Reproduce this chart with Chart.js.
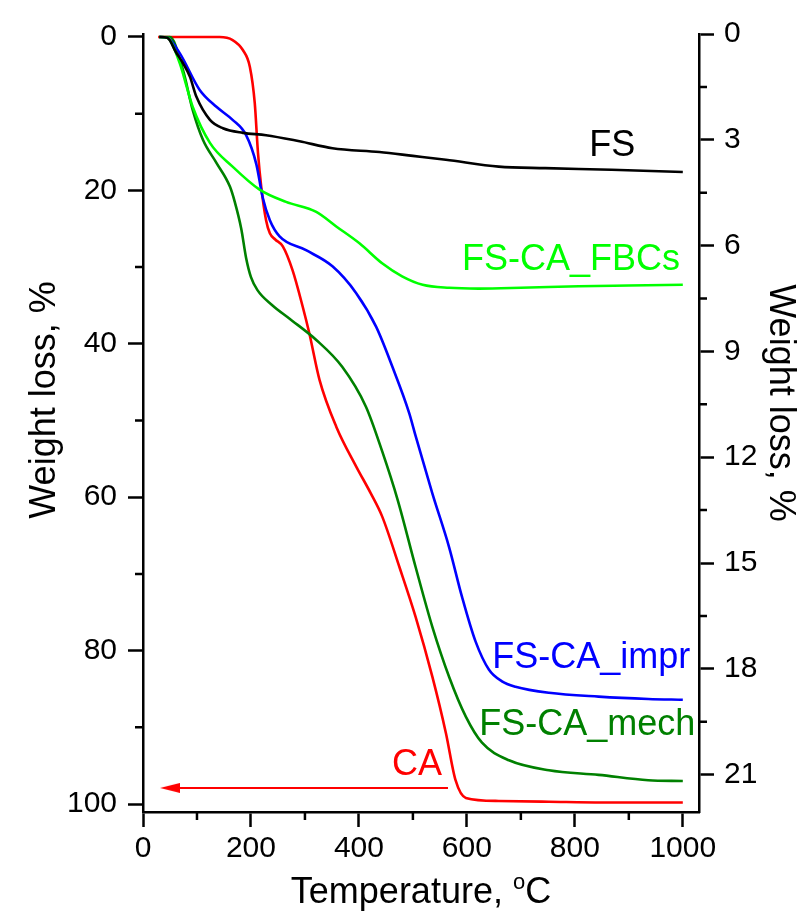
<!DOCTYPE html>
<html>
<head>
<meta charset="utf-8">
<title>TGA weight loss</title>
<script src="https://cdn.jsdelivr.net/npm/chart.js@4.4.1/dist/chart.umd.min.js"></script>
<style>
  html, body { margin: 0; padding: 0; background: #fff; overflow: hidden; }
  canvas { display: block; }
</style>
</head>
<body>
<canvas id="tgaChart" width="801" height="922"></canvas>
<script>
const FONT = '"Liberation Sans", Arial, sans-serif';

// Thermogravimetric curves: temperature (°C) and weight loss (%)
const fsTemp = [30, 45, 62, 74, 87, 99, 124, 148, 185, 228, 290, 351, 438, 500, 561, 659, 745, 868, 1000];
const fsLoss = [0, 0.1, 2.1, 3.4, 5.2, 7.8, 10.8, 11.9, 12.5, 12.8, 13.6, 14.5, 15.0, 15.5, 16.0, 16.9, 17.1, 17.3, 17.6];

const fbcTemp = [30, 45, 68, 81, 92, 124, 166, 216, 265, 321, 358, 401, 443, 480, 518, 567, 622, 700, 807, 900, 1000];
const fbcLoss = [0, 0.1, 3.4, 6.5, 9.1, 13.8, 16.9, 19.9, 21.5, 22.8, 24.7, 26.9, 29.5, 31.2, 32.3, 32.7, 32.8, 32.7, 32.5, 32.4, 32.3];

const imprTemp = [30, 45, 68, 105, 136, 166, 191, 210, 222, 235, 253, 302, 351, 395, 432, 462, 493, 505, 536, 567, 591, 616, 641, 665, 690, 752, 844, 936, 1000];
const imprLoss = [0, 0.1, 2.1, 6.9, 9.1, 10.8, 12.8, 16.6, 21.0, 23.9, 26.0, 27.8, 29.9, 33.4, 37.8, 43.0, 49.0, 52.0, 59.5, 66.5, 73.0, 78.8, 82.5, 84.0, 84.7, 85.5, 86.0, 86.3, 86.4];

const mechTemp = [30, 50, 74, 92, 111, 136, 161, 170, 182, 191, 200, 212, 240, 271, 321, 369, 413, 443, 472, 505, 536, 567, 598, 628, 678, 752, 844, 936, 1000];
const mechLoss = [0, 0, 4.3, 9.5, 13.4, 16.4, 19.5, 21.5, 25.0, 28.8, 31.3, 33.0, 35.0, 36.7, 39.5, 43.0, 48.2, 54.0, 60.4, 69.1, 76.9, 83.4, 88.6, 92.0, 94.3, 95.6, 96.2, 96.9, 97.0];

const caTemp = [28, 142, 166, 185, 198, 207, 213, 219, 228, 235, 245, 259, 277, 296, 308, 327, 358, 395, 422, 443, 475, 505, 536, 561, 579, 598, 659, 752, 850, 1000];
const caLoss = [0, 0, 0.4, 1.7, 3.9, 8.6, 15.1, 19.5, 23.9, 25.6, 26.4, 27.3, 30.4, 35.2, 38.6, 44.7, 50.8, 56.0, 59.5, 62.5, 69.1, 75.6, 83.4, 90.7, 96.9, 99.2, 99.6, 99.7, 99.8, 99.8];

// arrow pointing to the left-hand axis
const arrowTemp = [565, 50];
const arrowLoss = [97.9, 97.9];

// labelled ticks
const tempTicks = [0, 200, 400, 600, 800, 1000];
const lossTicks = [0, 20, 40, 60, 80, 100];
const rightTicks = [0, 3, 6, 9, 12, 15, 18, 21];

// unlabelled minor ticks
const tempMinor = [100, 300, 500, 700, 900];
const lossMinor = [10, 30, 50, 70, 90];
const rightMinor = [1.5, 4.5, 7.5, 10.5, 13.5, 16.5, 19.5];

const toPoints = (xs, ys) => xs.map((x, i) => ({ x: x, y: ys[i] }));

// curve name labels, anchored at their right end / baseline
const seriesLabels = [
    { text: 'FS', color: '#000000', x: 912, y: 15.5 },
    { text: 'FS-CA_FBCs', color: '#00ff00', x: 995, y: 30.4 },
    { text: 'FS-CA_impr', color: '#0000ff', x: 1014, y: 82.3 },
    { text: 'FS-CA_mech', color: '#008000', x: 1023, y: 91.0 },
    { text: 'CA', color: '#ff0000', x: 554, y: 96.2 }
];

// small arrow head image used as the point style
const arrowHead = document.createElement('canvas');
arrowHead.width = 20;
arrowHead.height = 10;
const actx = arrowHead.getContext('2d');
actx.fillStyle = '#ff0000';
actx.beginPath();
actx.moveTo(0, 5);
actx.lineTo(20, 0);
actx.lineTo(20, 10);
actx.closePath();
actx.fill();

function curve(label, color, xs, ys) {
    return {
        label: label,
        data: toPoints(xs, ys),
        borderColor: color,
        borderWidth: 2.6,
        pointRadius: 0,
        fill: false,
        cubicInterpolationMode: 'monotone'
    };
}

const fixTicks = values => scale => { scale.ticks = values.map(v => ({ value: v })); };

const minorTicks = {
    id: 'minorTicks',
    afterDraw(chart) {
        const { ctx, scales } = chart;
        const { x, y, y2 } = scales;
        ctx.save();
        ctx.strokeStyle = '#000';
        ctx.lineWidth = 2.5;
        ctx.beginPath();
        tempMinor.forEach(v => {
            const px = x.getPixelForValue(v);
            ctx.moveTo(px, x.top);
            ctx.lineTo(px, x.top + 8);
        });
        lossMinor.forEach(v => {
            const py = y.getPixelForValue(v);
            ctx.moveTo(y.right, py);
            ctx.lineTo(y.right - 8, py);
        });
        rightMinor.forEach(v => {
            const py = y2.getPixelForValue(v);
            ctx.moveTo(y2.left, py);
            ctx.lineTo(y2.left + 8, py);
        });
        ctx.stroke();
        ctx.restore();
    }
};

const textLayer = {
    id: 'textLayer',
    afterDraw(chart) {
        const { ctx, scales, chartArea } = chart;
        ctx.save();
        ctx.fillStyle = '#000';
        ctx.textBaseline = 'alphabetic';

        // axis titles
        ctx.font = '36px ' + FONT;
        ctx.textAlign = 'center';
        ctx.save();
        ctx.translate(55, 400);
        ctx.rotate(-Math.PI / 2);
        ctx.fillText('Weight loss, %', 0, 0);
        ctx.restore();

        ctx.save();
        ctx.translate(770, 403);
        ctx.rotate(Math.PI / 2);
        ctx.fillText('Weight loss, %', 0, 0);
        ctx.restore();

        // "Temperature, °C" with a raised small o
        const main = 'Temperature, ';
        ctx.font = '36px ' + FONT;
        const wMain = ctx.measureText(main).width;
        const wC = ctx.measureText('C').width;
        ctx.font = '22px ' + FONT;
        const wSup = ctx.measureText('o').width;
        const cx = (chartArea.left + chartArea.right) / 2;
        let left = cx - (wMain + wSup + wC) / 2;
        const base = 903;
        ctx.textAlign = 'left';
        ctx.font = '36px ' + FONT;
        ctx.fillText(main, left, base);
        left += wMain;
        ctx.font = '22px ' + FONT;
        ctx.fillText('o', left, base - 14);
        left += wSup;
        ctx.font = '36px ' + FONT;
        ctx.fillText('C', left, base);

        // curve names
        ctx.textAlign = 'right';
        ctx.font = '36px ' + FONT;
        seriesLabels.forEach(l => {
            ctx.fillStyle = l.color;
            ctx.fillText(l.text, scales.x.getPixelForValue(l.x), scales.y.getPixelForValue(l.y));
        });
        ctx.restore();
    }
};

const axisLook = {
    grid: { drawOnChartArea: false, drawTicks: true, tickLength: 15, tickWidth: 2.5, tickColor: '#000' },
    border: { display: true, color: '#000', width: 2.5 }
};

const tickFont = { family: FONT, size: 30 };

new Chart(document.getElementById('tgaChart'), {
    type: 'line',
    data: {
        datasets: [
            curve('FS', '#000000', fsTemp, fsLoss),
            curve('FS-CA_FBCs', '#00ff00', fbcTemp, fbcLoss),
            curve('FS-CA_impr', '#0000ff', imprTemp, imprLoss),
            curve('FS-CA_mech', '#008000', mechTemp, mechLoss),
            curve('CA', '#ff0000', caTemp, caLoss),
            {
                label: 'arrow',
                data: toPoints(arrowTemp, arrowLoss),
                borderColor: '#ff0000',
                borderWidth: 2,
                pointStyle: arrowHead,
                pointRadius: [0, 5],
                fill: false
            }
        ]
    },
    options: {
        responsive: false,
        animation: false,
        events: [],
        layout: { padding: { top: 34, left: 0, right: 0, bottom: 0 } },
        plugins: {
            legend: { display: false },
            tooltip: { enabled: false }
        },
        scales: {
            x: {
                type: 'linear',
                position: 'bottom',
                min: 0,
                max: 1030,
                ...axisLook,
                afterBuildTicks: fixTicks(tempTicks),
                ticks: {
                    autoSkip: false,
                    maxRotation: 0,
                    padding: 4,
                    color: '#000',
                    font: tickFont,
                    callback: v => String(v)
                },
                afterFit: s => { s.height = 110; }
            },
            y: {
                type: 'linear',
                position: 'left',
                reverse: true,
                min: -0.39,
                max: 101.04,
                ...axisLook,
                afterBuildTicks: fixTicks(lossTicks),
                ticks: {
                    autoSkip: false,
                    padding: 11,
                    color: '#000',
                    font: tickFont,
                    callback: v => String(v)
                },
                afterFit: s => { s.width = 143; }
            },
            y2: {
                type: 'linear',
                position: 'right',
                reverse: true,
                min: 0,
                max: 22.06,
                ...axisLook,
                afterBuildTicks: fixTicks(rightTicks),
                ticks: {
                    autoSkip: false,
                    padding: 10,
                    color: '#000',
                    font: tickFont,
                    callback: v => String(v)
                },
                afterFit: s => { s.width = 102; }
            }
        }
    },
    plugins: [minorTicks, textLayer]
});
</script>
</body>
</html>
